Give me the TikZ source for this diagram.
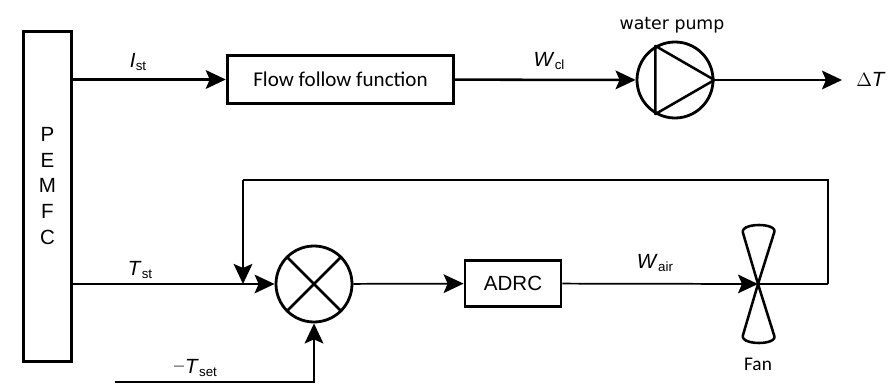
\documentclass[tikz,border=0pt]{standalone}
\usepackage{fontspec}
\setmainfont{Liberation Sans}
\newfontfamily\pumpfont{DejaVu Sans}
\newfontfamily\fanfont{Carlito}
\usetikzlibrary{arrows.meta}
\newcommand{\varlabel}[2]{\textit{#1}\kern0.2pt\raisebox{-2.5pt}{\fontsize{10}{11}\selectfont #2}}

\begin{document}
\begin{tikzpicture}[x=0.75pt,y=-0.75pt,
		every node/.style={font=\fontsize{15.4}{18}\selectfont},
		block/.style={draw,line width=2.1pt,inner sep=0pt},
		round/.style={circle,draw,line width=2.1pt,inner sep=0pt,minimum size=57pt},
		wire/.style={line width=1.3pt},
		thickwire/.style={line width=1.9pt},
		tip/.style={-{Stealth[length=15pt,width=14pt,inset=3pt]}},
		flow/.style={wire,tip},
		thickflow/.style={thickwire,tip}]
		\useasboundingbox (0,0) rectangle (891,384);
		\node[block,minimum width=36.5pt,minimum height=248pt](pemfc) at (47.5,196.5){};
		\node[align=center,font=\fontsize{15.4}{19.3}\selectfont](pemfclabel) at (47.5,186){P\\E\\M\\F\\C};
		\node[block,minimum width=170pt,minimum height=36.5pt,font=\fontsize{15.8}{18}\selectfont\fanfont](follow) at (340.5,79.5){Flow follow function};
		\node[round](pump) at (675,80){};
		\node[round](sum) at (314,284){};
		\node[block,minimum width=72pt,minimum height=35pt](adrc) at (513,283.5){ADRC};
		\coordinate(fan) at (758,284);
		\coordinate(corner1) at (828,284);
		\coordinate(corner2) at (828,180);
		\coordinate(corner3) at (243,180);
		\coordinate(merge) at (243,284);
		\coordinate(setin) at (115,382);
		\coordinate(setcorner) at (314,382);
		\node(out) at (871,79){$\Delta$\textit{T}};
		\coordinate(outend) at (842,80);
		% top branch
		\draw[thickflow](pemfc.east |- follow)--(follow);
		\draw[thickflow](follow)--(pump);
		\draw[thickflow](pump)--(outend);
		\draw[line width=1.9pt,line join=round](pump.120)--(pump.240)--(pump.0)--cycle;
		% bottom branch
		\draw[flow](pemfc.east |- sum)--(sum);
		\draw[thickflow](corner3)--(merge);
		\draw[wire](fan)--(corner1);
		\draw[thickwire,line join=miter](corner1)--(corner2)--(corner3);
		\draw[thickwire](sum.45)--(sum.225);
		\draw[thickwire](sum.135)--(sum.315);
		\draw[flow](sum)--(adrc);
		\draw[flow](adrc)--(fan);
		\draw[thickflow](setin)--(setcorner)--(sum);
		% fan
		\draw[line width=1.9pt,line join=round](fan)--(743,233) .. controls (741,227) and (752,225) .. (759,225) .. controls (766,225) and (777,227) .. (774,233)--(fan)
			--(743,335) .. controls (741,341) and (752,343) .. (759,343) .. controls (766,343) and (777,341) .. (774,335)--cycle;
		% labels
		\node(ist) at (138,62){\varlabel{I}{st}};
		\node(wcl) at (549,61){\varlabel{W}{cl}};
		\node[font=\fontsize{13}{15}\selectfont\pumpfont](pumplabel) at (672,25){water pump};
		\node(tst) at (140,270){\varlabel{T}{st}};
		\node(tset) at (195,368){{\color{gray}\textminus}\varlabel{T}{set}};
		\node(wair) at (655,263){\varlabel{W}{air}};
		\node[font=\fontsize{14.5}{17}\selectfont\fanfont](fanlabel) at (758,364){Fan};
	\end{tikzpicture}
\end{document}
